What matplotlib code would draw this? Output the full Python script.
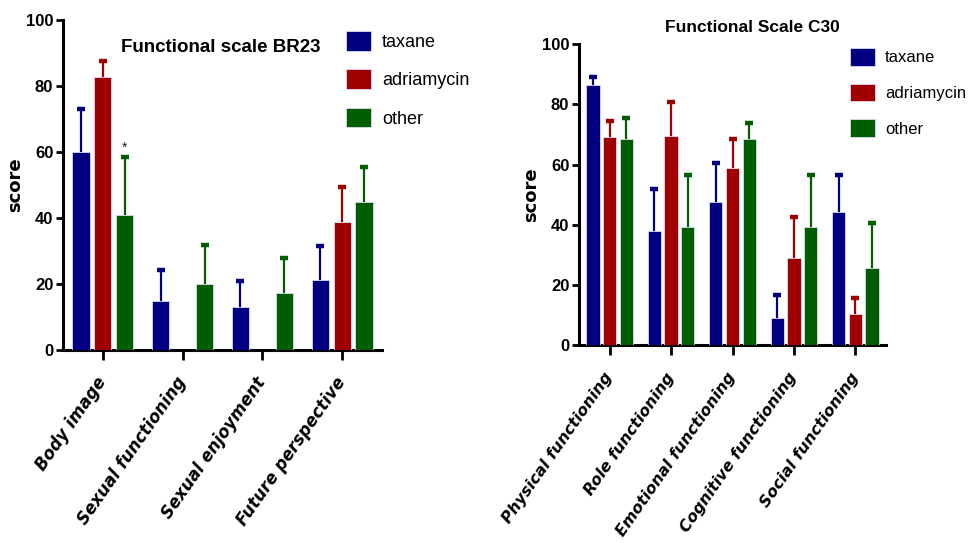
import matplotlib
matplotlib.use("Agg")
import matplotlib.pyplot as plt
from matplotlib.patches import Patch
import numpy as np

# ---- data -------------------------------------------------------------
groups = ["taxane", "adriamycin", "other"]

br23_labels = ["Body image", "Sexual functioning", "Sexual enjoyment", "Future perspective"]
br23_taxane = [60.0, 14.9, 12.9, 21.2]
br23_adria = [82.8, 0.0, 0.0, 38.7]
br23_other = [40.8, 19.9, 17.2, 44.9]
br23_taxane_err = [12.9, 9.3, 8.1, 10.3]
br23_adria_err = [4.8, 0.0, 0.0, 10.6]
br23_other_err = [17.8, 11.9, 10.8, 10.6]

c30_labels = ["Physical functioning", "Role functioning", "Emotional functioning",
              "Cognitive functioning", "Social functioning"]
c30_taxane = [86.3, 38.0, 47.4, 8.9, 44.2]
c30_adria = [69.1, 69.5, 58.8, 29.0, 10.2]
c30_other = [68.4, 39.4, 68.5, 39.4, 25.5]
c30_taxane_err = [2.7, 13.8, 13.2, 7.6, 12.3]
c30_adria_err = [5.3, 11.2, 9.7, 13.5, 5.3]
c30_other_err = [7.2, 17.0, 5.2, 17.0, 15.2]

colors = ["#000080", "#a00000", "#005e00"]

plt.rcParams["font.family"] = ["Liberation Sans", "DejaVu Sans"]

fig = plt.figure(figsize=(9.71, 5.43), dpi=100)
W, H = 971, 543


def axes_px(x0, x1, ytop, ybot):
    return fig.add_axes([x0 / W, 1 - ybot / H, (x1 - x0) / W, (ybot - ytop) / H])


def draw_panel(ax, labels, means, errs, width, step, rot_pad, xfs):
    n = len(labels)
    x = np.arange(n)
    for k, (m, e, c) in enumerate(zip(means, errs, colors)):
        pos = x + (k - 1) * step
        m = np.asarray(m)
        e = np.asarray(e)
        ax.bar(pos, m, width=width, color=c, edgecolor="#dcdcf0", linewidth=0.6, zorder=3)
        show = m > 0
        # symmetric bars; the lower half is hidden behind the bar itself
        ax.errorbar(pos[show], m[show], yerr=e[show],
                    fmt="none", ecolor=c, elinewidth=1.6, capsize=3.2, capthick=3.2,
                    zorder=2)
    ax.set_xlim(-0.5, n - 0.5)
    ax.set_ylim(0, 100)
    ax.set_yticks([0, 20, 40, 60, 80, 100])
    ax.set_yticklabels(["0", "20", "40", "60", "80", "100"], fontsize=12, fontweight="bold")
    ax.set_xticks(x)
    ax.set_xticklabels(labels, rotation=55, ha="right", va="center",
                       rotation_mode="anchor", fontsize=xfs, fontweight="bold",
                       fontstyle="oblique", family="DejaVu Sans")
    ax.tick_params(axis="x", length=7, width=2, pad=rot_pad)
    ax.tick_params(axis="y", length=5, width=2, pad=2)
    for s in ("top", "right"):
        ax.spines[s].set_visible(False)
    for s in ("left", "bottom"):
        ax.spines[s].set_linewidth(2.2)
    ax.set_ylabel("score", fontsize=13, fontweight="bold", family="DejaVu Sans")


# ---- left panel: BR23 -------------------------------------------------
ax1 = axes_px(63, 382, 20, 350)
draw_panel(ax1, br23_labels,
           [br23_taxane, br23_adria, br23_other],
           [br23_taxane_err, br23_adria_err, br23_other_err],
           width=0.215, step=0.275, rot_pad=14, xfs=12)
ax1.yaxis.set_label_coords(-0.122, 0.5)
ax1.text((221 - 63) / (382 - 63), 1 - (47 - 20) / 330, "Functional scale BR23",
         transform=ax1.transAxes, ha="center", va="center", fontsize=13.5, fontweight="bold")
ax1.text(0.275, br23_other[0] + br23_other_err[0] + 0.5, "*",
         ha="center", va="bottom", fontsize=10, color="#202020", zorder=4)

# ---- right panel: C30 -------------------------------------------------
ax2 = axes_px(579, 886, 44.3, 345)
draw_panel(ax2, c30_labels,
           [c30_taxane, c30_adria, c30_other],
           [c30_taxane_err, c30_adria_err, c30_other_err],
           width=0.217, step=0.272, rot_pad=14, xfs=11.3)
ax2.yaxis.set_label_coords(-0.127, 0.5)
fig.text(752.5 / W, 1 - 27 / H, "Functional Scale C30", ha="center", va="center",
         fontsize=12.5, fontweight="bold")

# ---- legends ----------------------------------------------------------
handles = [Patch(facecolor=c, edgecolor="#dcdcf0", linewidth=0.6) for c in colors]
fig.legend(handles, groups, loc="upper left", bbox_to_anchor=(346 / W, 1 - 31 / H),
           frameon=False, fontsize=13, handlelength=1.4, handleheight=1.3,
           labelspacing=1.02, handletextpad=0.6, borderpad=0, borderaxespad=0)
fig.legend(handles, groups, loc="upper left", bbox_to_anchor=(850 / W, 1 - 48 / H),
           frameon=False, fontsize=12, handlelength=1.5, handleheight=1.25,
           labelspacing=1.08, handletextpad=0.6, borderpad=0, borderaxespad=0)

fig.savefig("out.png", dpi=100)
